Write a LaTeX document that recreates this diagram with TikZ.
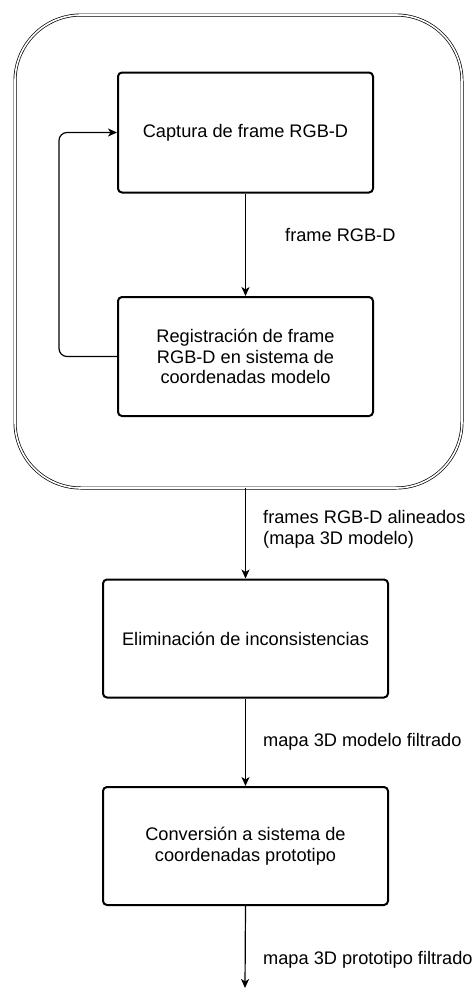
\documentclass[tikz,border=0pt]{standalone}
\usepackage{fontspec}
\setmainfont{Liberation Sans}
\usetikzlibrary{arrows.meta,positioning,calc}
\begin{document}
\begin{tikzpicture}[x=1pt,y=-1pt,
  font=\fontsize{18.2}{20.7}\selectfont,
  procbox/.style={draw=black,line width=2pt,rounded corners=4pt,align=center,inner sep=0pt},
  flow/.style={draw=black,line width=1.2pt,-{Stealth[length=9pt,width=8pt,inset=2.5pt]}},
  lbl/.style={anchor=west,align=left,inner sep=0pt}]
\useasboundingbox (0,0) rectangle (474,991);
\node[draw=black,line width=0.7pt,double,double distance=1.6pt,rounded corners=66pt,
      minimum width=447pt,minimum height=473pt,inner sep=0pt] (outer) at (238.5,251.5) {};
\node[procbox,minimum width=255pt,minimum height=120pt] (cap) at (245.5,132.5) {Captura de frame RGB-D};
\node[procbox,minimum width=255pt,minimum height=119pt] (reg) at (245.5,356.5) {Registración de frame\\RGB-D en sistema de\\coordenadas modelo};
\node[procbox,minimum width=285pt,minimum height=118pt] (elim) at (245.5,638.5) {Eliminación de inconsistencias};
\node[procbox,minimum width=285pt,minimum height=118pt] (conv) at (245.5,846) {Conversión a sistema de\\coordenadas prototipo};
\coordinate (endpt) at (245,988);
\coordinate (loopa) at (59,356.5);
\coordinate (loopb) at (59,132.5);
\draw[flow] (cap.south) -- (reg.north);
\draw[flow,rounded corners=8pt] (reg.west) -- (loopa) -- (loopb) -- (cap.west);
\draw[flow] (elim.north |- outer.south) -- (elim.north);
\draw[flow] (elim.south) -- (conv.north);
\draw[flow] (conv.south) -- (endpt);
\node[lbl] (l1) at (285,235) {frame RGB-D};
\node[lbl] (l2) at (263,529) {frames RGB-D alineados\\(mapa 3D modelo)};
\node[lbl] (l3) at (263,742) {mapa 3D modelo filtrado};
\node[lbl] (l4) at (263,960) {mapa 3D prototipo filtrado};
\end{tikzpicture}
\end{document}
